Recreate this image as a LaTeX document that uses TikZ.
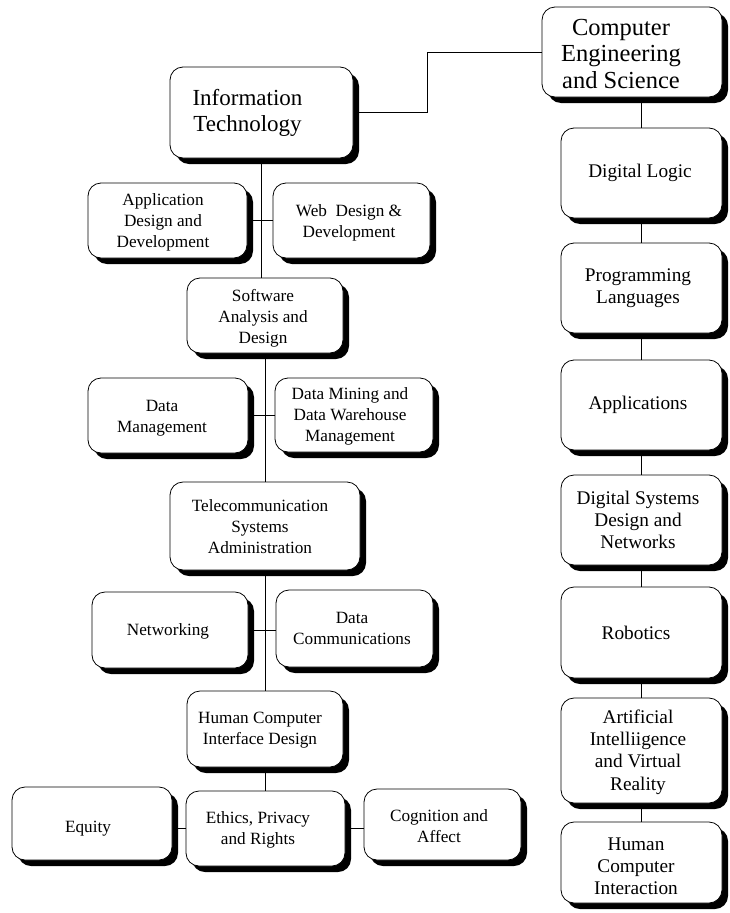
\documentclass[tikz,border=0pt]{standalone}
\usepackage{fontspec}
\setmainfont{Liberation Serif}
\usetikzlibrary{shadows,backgrounds,calc}
\newcommand\myfs[2]{\fontsize{#1}{#2}\selectfont}
\tikzset{
  box/.style={draw=black, line width=0.8pt, fill=white, rounded corners=13pt, inner sep=0pt,
    drop shadow={shadow xshift=6pt, shadow yshift=-6pt, fill=black, opacity=1}},
  txt/.style={align=center, inner sep=0pt},
  small/.style={font=\myfs{17.2}{21}},
  rcol/.style={font=\myfs{19.3}{22.2}},
  link/.style={draw=black, line width=0.8pt}
}
\begin{document}
\begin{tikzpicture}[x=1pt,y=-1pt]
\useasboundingbox (0,0) rectangle (729,913);
% top boxes
\node[box, minimum width=183, minimum height=91] (it) at (261.5,112.5) {};
\node[box, minimum width=180, minimum height=90] (ces) at (632,52) {};
% right column
\node[box, minimum width=161, minimum height=90] (dl) at (641.5,173) {};
\node[box, minimum width=161, minimum height=90] (pl) at (641.5,288) {};
\node[box, minimum width=161, minimum height=90] (ap) at (641.5,405) {};
\node[box, minimum width=161, minimum height=90] (ds) at (641.5,520) {};
\node[box, minimum width=161, minimum height=91] (ro) at (641.5,632.5) {};
\node[box, minimum width=161, minimum height=105] (ai) at (641.5,750.5) {};
\node[box, minimum width=161, minimum height=81] (hc) at (641.5,862.5) {};
% left column
\node[box, minimum width=159, minimum height=75] (ad) at (167.5,220.5) {};
\node[box, minimum width=157, minimum height=75] (wd) at (351.5,220.5) {};
\node[box, minimum width=156, minimum height=75] (sa) at (265,315.5) {};
\node[box, minimum width=160, minimum height=75] (dm) at (168,415.5) {};
\node[box, minimum width=158, minimum height=74] (dw) at (354,415) {};
\node[box, minimum width=190, minimum height=88] (ts) at (265,526) {};
\node[box, minimum width=156, minimum height=76] (nw) at (170,630) {};
\node[box, minimum width=157, minimum height=77] (dc) at (354.5,628.5) {};
\node[box, minimum width=156, minimum height=76] (hd) at (265,729) {};
\node[box, minimum width=160, minimum height=73] (eq) at (92,823.5) {};
\node[box, minimum width=159, minimum height=75] (et) at (265.5,828.5) {};
\node[box, minimum width=157, minimum height=71] (ca) at (442.5,824.5) {};
% texts
\node[txt, font=\myfs{23}{26}] (itT) at (247.5,113) {Information\\Technology};
\node[txt, font=\myfs{24.5}{26.5}] (cesT) at (621,54) {Computer\\Engineering\\and Science};
\node[txt, rcol] (dlT) at (640,173) {Digital Logic};
\node[txt, rcol] (plT) at (638,288) {Programming\\Languages};
\node[txt, rcol] (apT) at (638,405) {Applications};
\node[txt, rcol] (dsT) at (638,520) {Digital Systems\\Design and\\Networks};
\node[txt, rcol] (roT) at (636,633) {Robotics};
\node[txt, rcol] (aiT) at (638,752) {Artificial\\Intelliigence\\and Virtual\\Reality};
\node[txt, rcol] (hcT) at (636,866) {Human\\Computer\\Interaction};
\node[txt, small] (adT) at (163,222) {Application\\Design and\\Development};
\node[txt, small] (wdT) at (349,222.5) {Web\ \ Design \&\\Development};
\node[txt, small] (saT) at (263,318) {Software\\Analysis and\\Design};
\node[txt, small] (dmT) at (162,418) {Data\\Management};
\node[txt, small] (dwT) at (350,416.5) {Data Mining and\\Data Warehouse\\Management};
\node[txt, small] (tsT) at (260,527) {Telecommunication\\Systems\\Administration};
\node[txt, small] (nwT) at (168,631) {Networking};
\node[txt, small] (dcT) at (352,628) {Data\\Communications};
\node[txt, small] (hdT) at (260,730) {Human Computer\\Interface Design};
\node[txt, small] (eqT) at (88,829) {Equity};
\node[txt, small] (etT) at (258,830) {Ethics, Privacy\\and Rights};
\node[txt, small] (caT) at (439,826) {Cognition and\\Affect};
% connectors
\begin{pgfonlayer}{background}
\draw[link] (it.east) -- ++(74,0) |- (ces.west);
\draw[link] (it.south) -- (it.south |- sa.north);
\draw[link] (ad.east) -- (wd.west);
\draw[link] (sa.south) -- (ts.north);
\draw[link] (dm.east) -- (dm.east -| dw.west);
\draw[link] (ts.south) -- (hd.north);
\draw[link] (nw.east) -- (nw.east -| dc.west);
\draw[link] (hd.south) -- (hd.south |- et.north);
\draw[link] (et.west) -- (et.west -| eq.east);
\draw[link] (et.east) -- (et.east -| ca.west);
\draw[link] (dl.north) -- (dl.north |- ces.south);
\draw[link] (dl.south) -- (pl.north);
\draw[link] (pl.south) -- (ap.north);
\draw[link] (ap.south) -- (ds.north);
\draw[link] (ds.south) -- (ro.north);
\draw[link] (ro.south) -- (ai.north);
\draw[link] (ai.south) -- (hc.north);
\end{pgfonlayer}
\end{tikzpicture}
\end{document}
